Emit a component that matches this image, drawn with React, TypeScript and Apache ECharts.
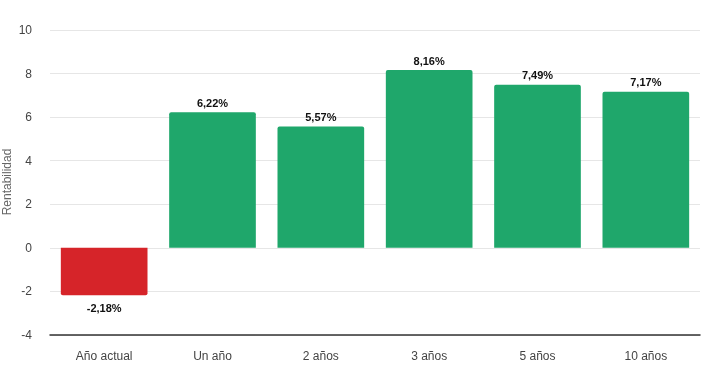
import React, { useEffect, useRef } from "react";
import * as echarts from "echarts";

const categories = ["Año actual", "Un año", "2 años", "3 años", "5 años", "10 años"];
const values = [-2.18, 6.22, 5.57, 8.16, 7.49, 7.17];
const yTicks = { min: -4, max: 10, interval: 2 };
const axisName = "Rentabilidad";

const GREEN = "#1fa76b";
const RED = "#d62429";

export default function App() {
  const ref = useRef<HTMLDivElement>(null);
  useEffect(() => {
    if (!ref.current) return;
    const chart = echarts.init(ref.current, undefined, { renderer: "svg" });
    const fmt = (v: number) => v.toFixed(2).replace(".", ",") + "%";
    chart.setOption({
      animation: false,
      textStyle: { fontFamily: "Liberation Sans, Arial, sans-serif" },
      grid: { left: 50, right: 7, top: 30, bottom: 47, containLabel: false, outerBoundsMode: "none" },
      graphic: [
        {
          type: "text",
          x: 7,
          y: 182,
          rotation: Math.PI / 2,
          style: {
            text: axisName,
            fill: "#666",
            fontSize: 12,
            fontFamily: "Liberation Sans, Arial, sans-serif",
            align: "center",
            verticalAlign: "middle",
          },
        },
      ],
      xAxis: {
        type: "category",
        data: categories,
        axisLine: { onZero: false, lineStyle: { color: "#333", width: 1.5 } },
        axisTick: { show: false },
        axisLabel: { color: "#444", fontSize: 12, margin: 15 },
      },
      yAxis: {
        type: "value",
        min: yTicks.min,
        max: yTicks.max,
        interval: yTicks.interval,
        axisLabel: { color: "#444", fontSize: 12, margin: 18 },
        splitLine: { lineStyle: { color: "#e6e6e6" } },
        axisLine: { show: false },
        axisTick: { show: false },
      },
      series: [
        {
          type: "bar",
          barCategoryGap: "20%",
          data: values.map((v) => ({
            value: v,
            itemStyle: {
              color: v < 0 ? RED : GREEN,
              borderRadius: v < 0 ? [0, 0, 2, 2] : [2, 2, 0, 0],
            },
            label: {
              show: true,
              position: v < 0 ? "bottom" : "top",
              distance: v < 0 ? 7 : 4,
              formatter: () => fmt(v),
              color: "#111",
              fontWeight: "bold",
              fontSize: 11,
            },
          })),
        },
      ],
    });
    return () => chart.dispose();
  }, []);
  return (
    <div style={{ position: "fixed", left: 0, top: 0, width: 707, height: 382 }}>
      <div ref={ref} style={{ width: 707, height: 382 }} />
    </div>
  );
}
